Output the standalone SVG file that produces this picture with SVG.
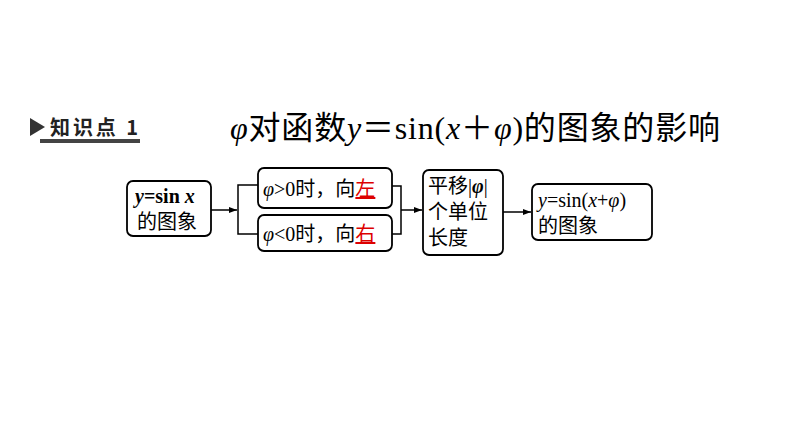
<svg xmlns="http://www.w3.org/2000/svg" width="794" height="447" viewBox="0 0 794 447">
<style>
.b{fill:#fff;stroke:#000;stroke-width:1.8}
.t{font-family:"Liberation Serif","Noto Sans CJK SC",serif;font-size:20px;fill:#000}
.c{stroke:#000;stroke-width:1.5;fill:none}
.i{font-style:italic}
</style>
<defs><marker id="a" markerWidth="8" markerHeight="6" refX="8" refY="3" orient="auto" markerUnits="userSpaceOnUse"><path d="M0,0L8,3L0,6z" fill="#000"/></marker></defs>
<rect width="794" height="447" fill="#fff"/>
<g id="header">
<path d="M30,118L45,127L30,136z" fill="#333"/>
<text x="50" y="135" style="font-family:'Noto Sans CJK SC',sans-serif;font-size:20px;font-weight:bold;fill:#222" textLength="88">知识点 1</text>
<rect x="40" y="139" width="100" height="4" fill="#444"/>
<text x="230" y="139" textLength="490" style="font-family:'Liberation Serif','Noto Sans CJK SC',serif;font-size:32px"><tspan class="i">φ</tspan>对函数<tspan class="i">y</tspan>＝sin(<tspan class="i">x</tspan>＋<tspan class="i">φ</tspan>)的图象的影响</text>
</g>
<g id="n1"><rect class="b" x="127" y="181" width="84" height="55" rx="6"/>
<text class="t" x="135" y="203"><tspan class="i" font-weight="bold">y</tspan><tspan font-weight="bold">=sin </tspan><tspan class="i" font-weight="bold">x</tspan></text>
<text class="t" x="137" y="229">的图象</text></g>
<g id="n2"><rect class="b" x="258" y="168" width="134" height="40" rx="6"/>
<text class="t" x="263" y="196"><tspan class="i">φ</tspan>&gt;0时，向<tspan fill="#d00" text-decoration="underline">左</tspan></text></g>
<g id="n3"><rect class="b" x="258" y="215" width="134" height="36" rx="6"/>
<text class="t" x="263" y="241"><tspan class="i">φ</tspan>&lt;0时，向<tspan fill="#d00" text-decoration="underline">右</tspan></text></g>
<g id="n4"><rect class="b" x="423" y="170" width="80" height="85" rx="6"/>
<text class="t" x="428" y="193">平移|<tspan class="i" font-weight="bold">φ</tspan>|</text>
<text class="t" x="428" y="219">个单位</text>
<text class="t" x="428" y="245">长度</text></g>
<g id="n5"><rect class="b" x="532" y="184" width="120" height="56" rx="6"/>
<text class="t" x="538" y="207"><tspan class="i">y</tspan>=sin(<tspan class="i">x</tspan>+<tspan class="i">φ</tspan>)</text>
<text class="t" x="538" y="233">的图象</text></g>
<g id="connectors">
<path class="c" d="M211,210H237" marker-end="url(#a)"/>
<path class="c" d="M258,185H238V234H258"/>
<path class="c" d="M392,186H401V234H392"/>
<path class="c" d="M401,210H422" marker-end="url(#a)"/>
<path class="c" d="M503,212H531" marker-end="url(#a)"/>
</g>
</svg>
